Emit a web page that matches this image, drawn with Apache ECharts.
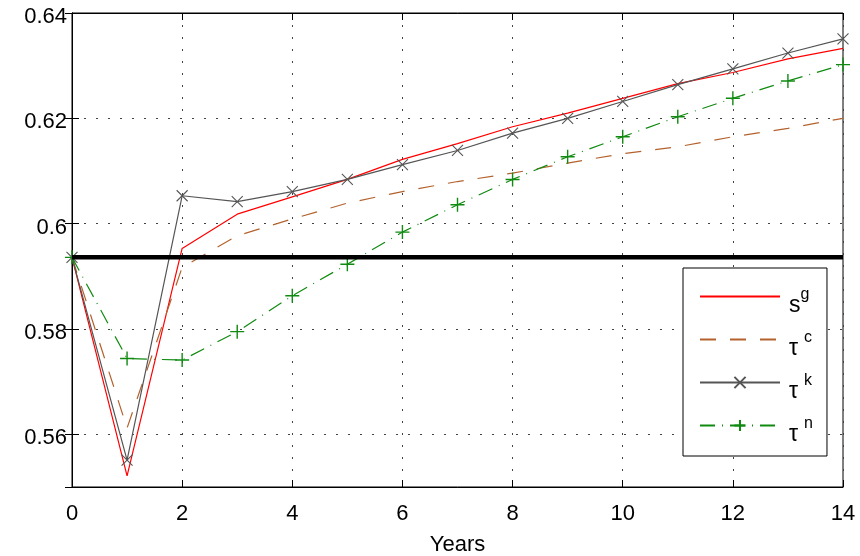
<!DOCTYPE html>
<html><head><meta charset="utf-8">
<script src="https://cdn.jsdelivr.net/npm/echarts@6/dist/echarts.min.js"></script>
<style>html,body{margin:0;padding:0;background:#fff}#c{width:860px;height:556px}</style>
</head><body><div id="c"></div>
<script>
// ---- data ----
const years = [0,1,2,3,4,5,6,7,8,9,10,11,12,13,14];
const sg = [0.5936,0.5521,0.5953,0.6018,0.6051,0.6084,0.6122,0.6152,0.6184,0.6210,0.6238,0.6266,0.6287,0.6313,0.6333];
const tc = [0.5936,0.5612,0.5917,0.5977,0.6009,0.6039,0.6061,0.6080,0.6096,0.6115,0.6133,0.6146,0.6165,0.6181,0.6200];
const tk = [0.5936,0.5551,0.6053,0.6042,0.6061,0.6084,0.6112,0.6139,0.6172,0.6200,0.6232,0.6264,0.6294,0.6324,0.6351];
const tn = [0.5936,0.5744,0.5741,0.5795,0.5863,0.5923,0.5984,0.6036,0.6084,0.6127,0.6165,0.6203,0.6238,0.6271,0.6302];
const steadyState = 0.5936;
const xRange = [0, 14];
const yRange = [0.55, 0.64];
const seriesNames = ['sg','tc','tk','tn'];
const legendLabels = {sg:'{b|s}{sup|g}', tc:'{b|τ}{sup2|c}', tk:'{b|τ}{sup2|k}', tn:'{b|τ}{sup2|n}'};
const xName = 'Years';

const pairs = arr => years.map((x,i)=>[x,arr[i]]);
const FONT = 'Liberation Sans';
const chart = echarts.init(document.getElementById('c'), null, {renderer:'canvas'});
const dotted = {color:'#444', width:1, type:[2,10]};
chart.setOption({
  animation:false,
  backgroundColor:'#fff',
  grid:{left:72, right:17, top:13, bottom:69, outerBoundsMode:'none', containLabel:false,
        show:true, borderColor:'#000', borderWidth:1, backgroundColor:'transparent'},
  xAxis:[{
    type:'value', min:xRange[0], max:xRange[1], interval:2,
    name:xName, nameLocation:'middle', nameGap:47,
    nameTextStyle:{fontFamily:FONT, fontSize:22, color:'#000'},
    axisLine:{show:true, lineStyle:{color:'#000', width:1}},
    axisTick:{show:true, inside:true, length:7, lineStyle:{color:'#000'}},
    axisLabel:{fontFamily:FONT, fontSize:22, color:'#000', margin:16},
    splitLine:{show:true, lineStyle:dotted}
  },{
    type:'value', position:'top', min:xRange[0], max:xRange[1], interval:2,
    axisLine:{show:true, lineStyle:{color:'#000', width:1}},
    axisTick:{show:true, inside:true, length:7, lineStyle:{color:'#000'}},
    axisLabel:{show:false}, splitLine:{show:false}
  }],
  yAxis:[{
    type:'value', min:yRange[0], max:yRange[1], minInterval:0.02, maxInterval:0.02,
    axisLine:{show:true, lineStyle:{color:'#000', width:1}},
    axisTick:{show:true, inside:true, length:7, lineStyle:{color:'#000'}},
    axisLabel:{fontFamily:FONT, fontSize:22, color:'#000', margin:5, showMinLabel:false, verticalAlign:'top', lineHeight:8},
    splitLine:{show:true, lineStyle:dotted}
  },{
    type:'value', position:'right', min:yRange[0], max:yRange[1], minInterval:0.02, maxInterval:0.02,
    axisLine:{show:true, lineStyle:{color:'#000', width:1}},
    axisTick:{show:true, inside:true, length:7, lineStyle:{color:'#000'}},
    axisLabel:{show:false}, splitLine:{show:false}
  }],
  legend:{
    data:[
      {name:'sg', itemStyle:{opacity:0}},
      {name:'tc', itemStyle:{opacity:0}},
      {name:'tk'},
      {name:'tn'}
    ],
    orient:'vertical', left:683, top:268,
    itemWidth:80, itemHeight:14, itemGap:2,
    padding:[8,14,10,16],
    backgroundColor:'#fff', borderColor:'#000', borderWidth:1, borderRadius:0,
    formatter:n=>legendLabels[n],
    textStyle:{fontFamily:FONT, color:'#000', lineHeight:26, rich:{
      b:{fontFamily:FONT, fontSize:23, lineHeight:26, color:'#000', padding:[18,0,0,4]},
      sup:{fontFamily:FONT, fontSize:16, lineHeight:26, color:'#000', padding:[0,0,3,0]},
      sup2:{fontFamily:FONT, fontSize:16, lineHeight:26, color:'#000', padding:[0,0,3,6]}
    }}
  },
  series:[
    {name:'sg', type:'line', data:pairs(sg), symbol:'none', z:3,
     lineStyle:{color:'#ff0000', width:1.2}, itemStyle:{color:'#ff0000'}},
    {name:'tc', type:'line', data:pairs(tc), symbol:'none', z:3,
     lineStyle:{color:'#b4622d', width:1.2, type:[16,14]}, itemStyle:{color:'#b4622d'}},
    {name:'tk', type:'line', data:pairs(tk), z:3,
     symbol:'path://M0,0L10,10M10,0L0,10', symbolSize:11,
     lineStyle:{color:'#555', width:1.2},
     itemStyle:{color:'transparent', borderColor:'#555', borderWidth:1.1}},
    {name:'tn', type:'line', data:pairs(tn), z:3,
     symbol:'path://M5,0L5,10M0,5L10,5', symbolSize:14,
     lineStyle:{color:'#108a10', width:1.2, type:[15,7,1,7]},
     itemStyle:{color:'transparent', borderColor:'#108a10', borderWidth:1.4}},
    {name:'steady', type:'line', data:[[xRange[0],steadyState],[xRange[1],steadyState]], symbol:'none', z:4,
     lineStyle:{color:'#000', width:4.5}, silent:true}
  ]
});
</script></body></html>
